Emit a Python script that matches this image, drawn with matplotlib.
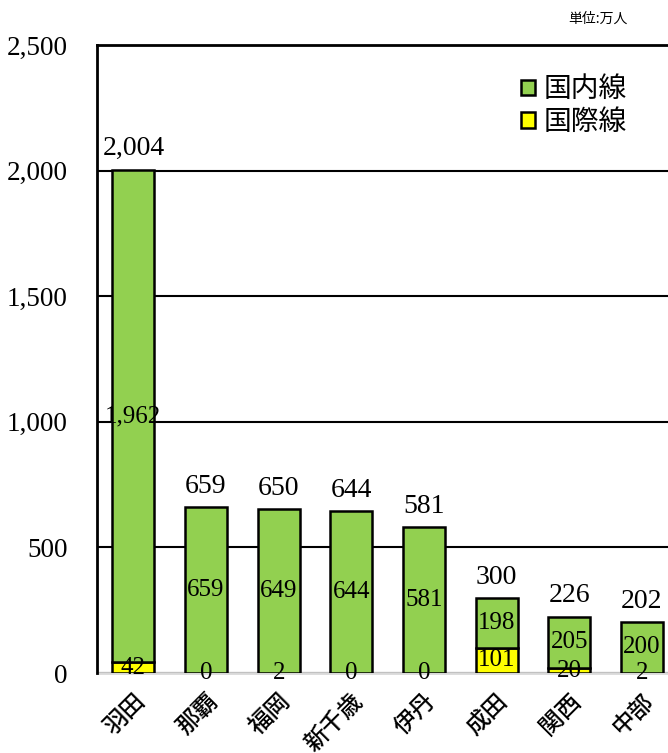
import matplotlib.pyplot as plt
import numpy as np

airports = ["羽田", "那覇", "福岡", "新千歳", "伊丹", "成田", "関西", "中部"]
domestic = [1962, 659, 649, 644, 581, 198, 205, 200]
international = [42, 0, 2, 0, 0, 101, 20, 2]
totals = [2004, 659, 650, 644, 581, 300, 226, 202]
yticks = [0, 500, 1000, 1500, 2000, 2500]

serif = "Liberation Serif"
cjk = ["Noto Sans CJK JP", "DejaVu Sans"]

fig = plt.figure(figsize=(6.68, 7.53), dpi=100)
ax = fig.add_axes([0.1452, 0.1062, 0.8548 + 0.01, 0.834])

x = np.arange(len(airports))
w = 0.58
b1 = ax.bar(x, international, w, color="#ffff00", edgecolor="black", linewidth=1.8,
            label="国際線", zorder=3)
b2 = ax.bar(x, domestic, w, bottom=international, color="#92d050", edgecolor="black",
            linewidth=1.8, label="国内線", zorder=3)

for i in range(len(airports)):
    ax.text(x[i], international[i] / 2, f"{international[i]:,}", ha="center", va="center",
            fontsize=18, family=serif, zorder=4)
    ax.text(x[i], international[i] + domestic[i] / 2, f"{domestic[i]:,}", ha="center",
            va="center", fontsize=18, family=serif, zorder=4)
    ax.annotate(f"{totals[i]:,}", (x[i], international[i] + domestic[i]), xytext=(0, 6),
                textcoords="offset points", ha="center", va="bottom", fontsize=20,
                family=serif, zorder=4)

ax.set_ylim(0, 2500)
ax.set_xlim(-0.5, 7.45)
ax.set_yticks(yticks)
ax.set_yticklabels([f"{v:,}" for v in yticks], family=serif, fontsize=19.5)
ax.tick_params(axis="y", length=0, pad=21)
ax.set_xticks(x)
ax.set_xticklabels(airports, rotation=45, ha="right", rotation_mode="anchor",
                   family=cjk, fontsize=17, fontweight="medium")
ax.tick_params(axis="x", length=0, pad=12)
ax.grid(axis="y", color="black", linewidth=1.5, zorder=0)

ax.spines["left"].set_linewidth(2)
ax.spines["top"].set_linewidth(2)
ax.spines["right"].set_visible(False)
ax.spines["bottom"].set_color("#d9d9d9")
ax.spines["bottom"].set_linewidth(2)
ax.spines["bottom"].set_zorder(2)

leg = ax.legend(handles=[b2, b1], loc="upper right", bbox_to_anchor=(0.96, 0.993),
                frameon=False, prop={"family": cjk, "size": 20}, handlelength=0.5,
                handleheight=0.5, handletextpad=0.3, labelspacing=0.1)

fig.text(0.94, 0.975, "単位:万人", ha="right", va="center", family=cjk, fontsize=10)

fig.savefig("out.png", dpi=100)
